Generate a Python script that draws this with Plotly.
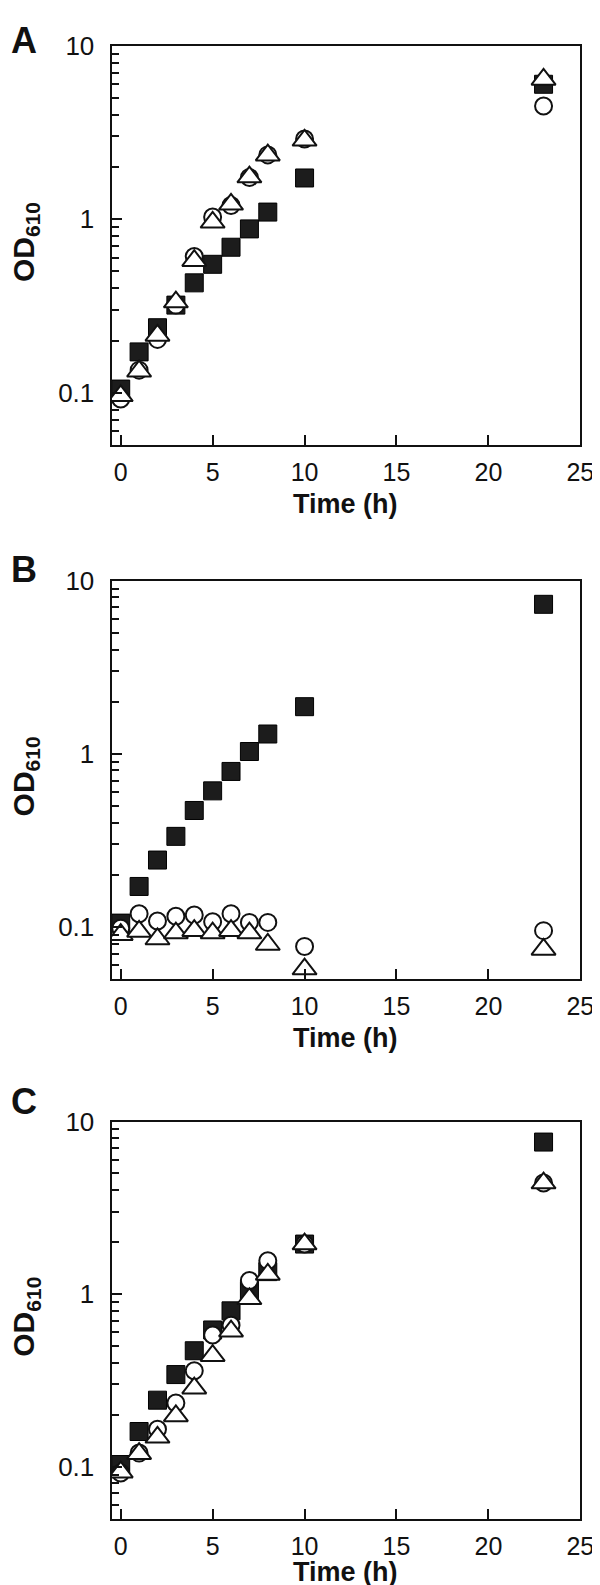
import plotly.graph_objects as go

# ---- data ----
time_h = [0, 1, 2, 3, 4, 5, 6, 7, 8, 10, 23]

A_square = [0.105, 0.172, 0.237, 0.32, 0.43, 0.55, 0.69, 0.88, 1.10, 1.73, 6.0]
A_circle = [0.092, 0.135, 0.203, 0.32, 0.61, 1.03, 1.20, 1.74, 2.35, 2.90, 4.5]
A_triangle = [0.096, 0.133, 0.214, 0.333, 0.577, 0.96, 1.22, 1.75, 2.34, 2.85, 6.4]

B_square = [0.105, 0.171, 0.243, 0.333, 0.47, 0.61, 0.79, 1.03, 1.30, 1.87, 7.3]
B_circle = [0.098, 0.119, 0.108, 0.115, 0.117, 0.107, 0.119, 0.106, 0.106, 0.077, 0.095]
B_triangle = [0.090, 0.094, 0.085, 0.092, 0.095, 0.092, 0.095, 0.092, 0.079, 0.057, 0.074]

C_square = [0.103, 0.160, 0.243, 0.342, 0.47, 0.62, 0.80, 1.05, 1.35, 1.95, 7.6]
C_circle = [0.092, 0.120, 0.165, 0.234, 0.36, 0.58, 0.66, 1.20, 1.56, 1.95, 4.4]
C_triangle = [0.093, 0.119, 0.148, 0.197, 0.285, 0.44, 0.61, 0.94, 1.30, 1.95, 4.4]

panel_labels = ["A", "B", "C"]
x_ticks = [0, 5, 10, 15, 20, 25]
x_title = "Time (h)"
y_title = "OD<sub>610</sub>"

panels = [
    (A_square, A_circle, A_triangle),
    (B_square, B_circle, B_triangle),
    (C_square, C_circle, C_triangle),
]

# ---- layout geometry (pixels from the top-left of the page) ----
W, H = 600, 1585
x_dom = [106 / W, 586 / W]
panel_px = [(23, 426), (563, 965), (1109, 1510)]
label_px_y = [18, 552, 1089]
xtitle_px_y = [486, 1025, 1564]

FONT = "Liberation Sans, Arial, sans-serif"
INK = "#111111"

fig = go.Figure()

for i, (sq, ci, tr) in enumerate(panels):
    n = "" if i == 0 else str(i + 1)
    xa, ya = "x" + n, "y" + n
    fig.add_trace(go.Scatter(
        x=time_h, y=sq, mode="markers", xaxis=xa, yaxis=ya, showlegend=False,
        marker=dict(symbol="square", size=18, color="#1c1c1c",
                    line=dict(color="#000000", width=1))))
    fig.add_trace(go.Scatter(
        x=time_h, y=ci, mode="markers", xaxis=xa, yaxis=ya, showlegend=False,
        marker=dict(symbol="circle", size=17, color="white",
                    line=dict(color=INK, width=2))))
    fig.add_trace(go.Scatter(
        x=time_h, y=tr, mode="markers", xaxis=xa, yaxis=ya, showlegend=False,
        marker=dict(symbol="triangle-up", size=21, color="white",
                    line=dict(color=INK, width=2))))

    top, bot = panel_px[i]
    y_dom = [1 - bot / H, 1 - top / H]
    fig.layout["xaxis" + n] = dict(
        domain=x_dom, anchor=ya, range=[-0.5, 25],
        tickmode="array", tickvals=x_ticks, ticks="inside", ticklen=10,
        tickwidth=2, tickcolor=INK, showline=True, linewidth=2, linecolor=INK,
        mirror=True, showgrid=False, zeroline=False, ticklabelstandoff=4,
        tickfont=dict(family=FONT, size=25, color=INK))
    fig.layout["yaxis" + n] = dict(
        domain=y_dom, anchor=xa, type="log", range=[-1.301, 1],
        dtick=1, ticks="inside", ticklen=10, tickwidth=2, tickcolor=INK,
        minor=dict(ticks="inside", ticklen=7, tickwidth=2, tickcolor=INK,
                   dtick="D1", showgrid=False),
        showline=True, linewidth=2, linecolor=INK, mirror=True,
        showgrid=False, zeroline=False, ticklabelstandoff=10,
        tickfont=dict(family=FONT, size=26, color=INK))

    # x-axis title
    fig.add_annotation(
        text="<b>" + x_title + "</b>", xref="paper", yref="paper",
        x=(x_dom[0] + x_dom[1]) / 2, y=1 - xtitle_px_y[i] / H,
        xanchor="center", yanchor="middle", showarrow=False,
        font=dict(family=FONT, size=27, color=INK))
    # y-axis title
    fig.add_annotation(
        text="<b>" + y_title + "</b>", xref="paper", yref="paper",
        x=18 / W, y=1 - ((top + bot) / 2 - 3) / H, textangle=-90,
        xanchor="center", yanchor="middle", showarrow=False,
        font=dict(family=FONT, size=30, color=INK))
    # panel letter
    fig.add_annotation(
        text="<b>" + panel_labels[i] + "</b>", xref="paper", yref="paper",
        x=16 / W, y=1 - label_px_y[i] / H, xanchor="center", yanchor="middle",
        showarrow=False, font=dict(family=FONT, size=36, color=INK))

fig.update_layout(
    width=W, height=H, margin=dict(l=0, r=0, t=0, b=0, pad=0),
    paper_bgcolor="white", plot_bgcolor="white",
)

fig.write_html("out.html")
